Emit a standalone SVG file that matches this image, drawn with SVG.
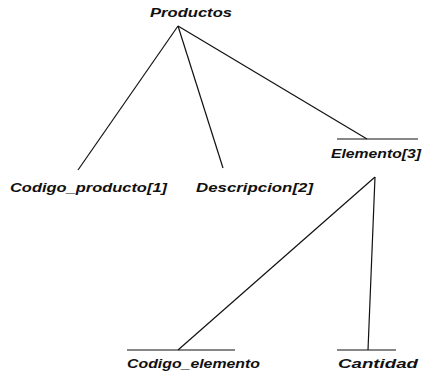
<svg xmlns="http://www.w3.org/2000/svg" width="425" height="373" viewBox="0 0 425 373">
<style>
text{font-family:"Liberation Sans",Arial,sans-serif;font-size:12px;font-weight:bold;font-style:italic;fill:#111;}
.c line{stroke:#111;stroke-width:1.2;}
</style>
<rect width="425" height="373" fill="#fff"/>
<g class="c" id="connectors">
<line x1="178" y1="26" x2="78" y2="170"/>
<line x1="178" y1="26" x2="223" y2="168"/>
<line x1="178" y1="26" x2="367" y2="139"/>
<line x1="337" y1="139" x2="418" y2="139"/>
<line x1="375" y1="177" x2="178" y2="350"/>
<line x1="375" y1="177" x2="368" y2="350"/>
<line x1="127" y1="350" x2="235" y2="350"/>
<line x1="337" y1="350" x2="396" y2="350"/>
</g>
<g id="productos"><text x="150" y="17" textLength="82" lengthAdjust="spacingAndGlyphs">Productos</text></g>
<g id="codigo_producto"><text x="10" y="192" textLength="157" lengthAdjust="spacingAndGlyphs">Codigo_producto[1]</text></g>
<g id="descripcion"><text x="196" y="192" textLength="117" lengthAdjust="spacingAndGlyphs">Descripcion[2]</text></g>
<g id="elemento"><text x="331" y="158" textLength="90" lengthAdjust="spacingAndGlyphs">Elemento[3]</text></g>
<g id="codigo_elemento"><text x="127" y="368" textLength="133" lengthAdjust="spacingAndGlyphs">Codigo_elemento</text></g>
<g id="cantidad"><text x="338" y="368" textLength="80" lengthAdjust="spacingAndGlyphs">Cantidad</text></g>
</svg>
